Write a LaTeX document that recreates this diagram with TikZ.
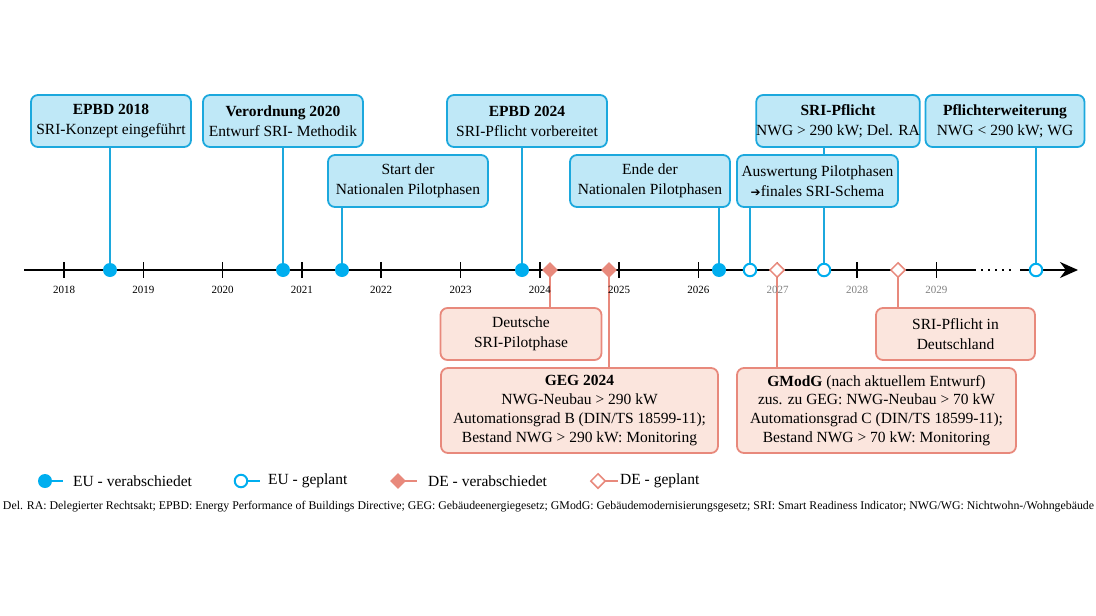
\documentclass[tikz,border=0pt]{standalone}
\usepackage{fontspec}
\setmainfont{Liberation Serif}
\newfontfamily\symfnt{DejaVu Sans}
\usetikzlibrary{arrows.meta,shapes.geometric,backgrounds}
\definecolor{eublue}{HTML}{1CA8DD}
\definecolor{eufill}{HTML}{BFE8F7}
\definecolor{eudot}{HTML}{00AEEF}
\definecolor{deline}{HTML}{E8897C}
\definecolor{defill}{HTML}{FBE5DD}
\definecolor{yeargray}{HTML}{808080}
\begin{document}
\begin{tikzpicture}[x=1pt,y=-1pt,
 eubox/.style={draw=eublue, fill=eufill, line width=1.8pt, rounded corners=7pt, align=center, minimum width=160pt, minimum height=52pt, inner sep=0pt, font=\fontsize{15.5}{20}\selectfont},
 debox/.style={draw=deline, fill=defill, line width=1.8pt, rounded corners=7pt, align=center, minimum height=52pt, inner sep=0pt, font=\fontsize{15.5}{20}\selectfont},
 debig/.style={debox, minimum height=85pt, font=\fontsize{15.5}{18.7}\selectfont},
 euline/.style={draw=eublue, line width=2pt},
 deln/.style={draw=deline, line width=2pt},
 eudone/.style={circle, fill=eudot, minimum size=14pt, inner sep=0pt},
 euplan/.style={circle, draw=eudot, fill=white, line width=2pt, minimum size=12.5pt, inner sep=0pt},
 dedone/.style={diamond, fill=deline, minimum size=16pt, inner sep=0pt},
 deplan/.style={diamond, draw=deline, fill=white, line width=1.5pt, minimum size=15pt, inner sep=0pt},
 tickmark/.style={line width=1.5pt},
 yearlbl/.style={font=\fontsize{11}{13}\selectfont, anchor=base, inner sep=0pt},
 legtxt/.style={anchor=west, font=\fontsize{15.5}{20}\selectfont, inner sep=0pt}
]
\useasboundingbox (0,0) rectangle (1096,616);

% top boxes (EU)
\node[eubox] (b1) at (111,121) {\textbf{EPBD 2018}\\SRI-Konzept eingeführt};
\node[eubox] (b2) at (283,121) {\textbf{Verordnung 2020}\\Entwurf SRI- Methodik};
\node[eubox] (b3) at (408,181) {Start der\\Nationalen Pilotphasen};
\node[eubox] (b4) at (527,121) {\textbf{EPBD 2024}\\SRI-Pflicht vorbereitet};
\node[eubox] (b5) at (650,181) {Ende der\\Nationalen Pilotphasen};
\node[eubox] (b6) at (838,121) {\textbf{SRI-Pflicht}\\NWG > 290 kW; Del. RA};
\node[eubox, minimum width=161pt] (b7) at (817.5,181) {Auswertung Pilotphasen\\{\symfnt\fontsize{12}{20}\selectfont ➔}finales SRI-Schema};
\node[eubox, minimum width=159pt] (b8) at (1005,121) {\textbf{Pflichterweiterung}\\NWG < 290 kW; WG};

% bottom boxes (DE)
\node[debox, minimum width=161pt] (c1) at (521,334) {Deutsche\\SRI-Pilotphase};
\node[debig, minimum width=277pt] (c2) at (579.5,410.5) {\textbf{GEG 2024}\\NWG-Neubau > 290 kW\\Automationsgrad B (DIN/TS 18599-11);\\Bestand NWG > 290 kW: Monitoring};
\node[debox, minimum width=159pt] (c3) at (955.5,334) {SRI-Pflicht in\\Deutschland};
\node[debig, minimum width=279pt] (c4) at (876.5,410.5) {\textbf{GModG} (nach aktuellem Entwurf)\\zus. zu GEG: NWG-Neubau > 70 kW\\Automationsgrad C (DIN/TS 18599-11);\\Bestand NWG > 70 kW: Monitoring};

% axis
\coordinate (a0) at (24,270);
\coordinate (a1) at (976,270);
\coordinate (a2) at (981,270);
\coordinate (a3) at (1016,270);
\coordinate (a4) at (1020,270);
\coordinate (a5) at (1078,270);
\draw[line width=2pt] (a0) -- (a1);
\draw[line width=2pt, dash pattern=on 1.5pt off 5.5pt] (a2) -- (a3);
\draw[line width=2pt, -{Stealth[length=18pt,width=16pt]}] (a4) -- (a5);

% ticks and years
\foreach \yr [count=\i from 0] in {2018,...,2029}{
  \pgfmathsetmacro{\tx}{64+79.3*\i}
  \coordinate (t\yr a) at (\tx,262);
  \coordinate (t\yr b) at (\tx,278);
  \draw[tickmark] (t\yr a) -- (t\yr b);
}
\foreach \yr [count=\i from 0] in {2018,...,2026}{
  \pgfmathsetmacro{\tx}{64+79.3*\i}
  \node[yearlbl] (y\yr) at (\tx,293) {\yr};
}
\foreach \yr [count=\i from 9] in {2027,2028,2029}{
  \pgfmathsetmacro{\tx}{64+79.3*\i}
  \node[yearlbl, text=yeargray] (y\yr) at (\tx,293) {\yr};
}

% markers
\node[eudone] (d1) at (110,270) {};
\node[eudone] (d2) at (283,270) {};
\node[eudone] (d3) at (342,270) {};
\node[eudone] (d4) at (522,270) {};
\node[eudone] (d5) at (719,270) {};
\node[euplan] (o1) at (750,270) {};
\node[euplan] (o2) at (824,270) {};
\node[euplan] (o3) at (1036,270) {};
\node[dedone] (p1) at (550,270) {};
\node[dedone] (p2) at (609,270) {};
\node[deplan] (q1) at (777,270) {};
\node[deplan] (q2) at (898,270) {};

% connectors
\begin{pgfonlayer}{background}
\draw[euline] (b1.south -| d1) -- (d1.center);
\draw[euline] (b2.south -| d2) -- (d2.center);
\draw[euline] (b3.south -| d3) -- (d3.center);
\draw[euline] (b4.south -| d4) -- (d4.center);
\draw[euline] (b5.south -| d5) -- (d5.center);
\draw[euline] (b7.south -| o1) -- (o1.center);
\draw[euline] (b6.south -| o2) -- (o2.center);
\draw[euline] (b8.south -| o3) -- (o3.center);
\draw[deln] (c1.north -| p1) -- (p1.center);
\draw[deln] (c2.north -| p2) -- (p2.center);
\draw[deln] (c4.north -| q1) -- (q1.center);
\draw[deln] (c3.north -| q2) -- (q2.center);
\end{pgfonlayer}

% legend
\begin{pgfonlayer}{background}
\coordinate (l1e) at (63,481);
\coordinate (l2e) at (260,481);
\coordinate (l3e) at (417,481);
\coordinate (l4e) at (618,481);
\end{pgfonlayer}
\node[eudone] (l1) at (45,481) {};
\node[euplan] (l2) at (241,481) {};
\node[dedone] (l3) at (398,481) {};
\node[deplan] (l4) at (598,481) {};
\begin{pgfonlayer}{background}
\draw[line width=2pt, eudot] (l1.center) -- (l1e);
\draw[line width=2pt, eudot] (l2.center) -- (l2e);
\draw[deln] (l3.center) -- (l3e);
\draw[deln] (l4.center) -- (l4e);
\end{pgfonlayer}
\node[legtxt] (lt1) at (73,481) {EU - verabschiedet};
\node[legtxt] (lt2) at (268,481) {EU - geplant};
\node[legtxt] (lt3) at (428,481) {DE - verabschiedet};
\node[legtxt] (lt4) at (620,481) {DE - geplant};

% footnote
\node[inner sep=0pt] (fn) at (548.5,507) {\resizebox{1091pt}{!}{\fontsize{10}{12}\selectfont Del. RA: Delegierter Rechtsakt; EPBD: Energy Performance of Buildings Directive; GEG: Gebäudeenergiegesetz; GModG: Gebäudemodernisierungsgesetz; SRI: Smart Readiness Indicator; NWG/WG: Nichtwohn-/Wohngebäude}};
\end{tikzpicture}
\end{document}
